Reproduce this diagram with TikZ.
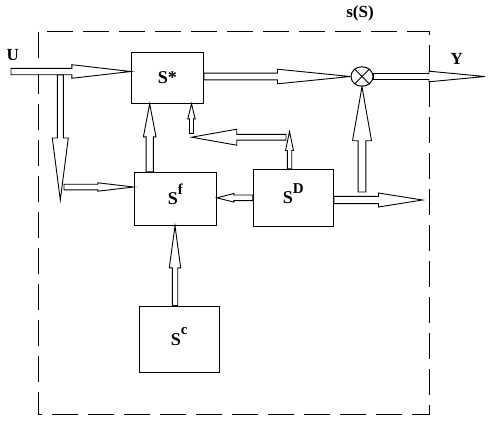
\documentclass[tikz,border=0pt]{standalone}
\usepackage{fontspec}
\setmainfont{Liberation Serif}
\usetikzlibrary{calc}
\usetikzlibrary{shapes.geometric}

% hollow block arrow: start, end, shaft half width, head half width, head length
\newcommand{\fatarrow}[5]{%
  \draw[fat] ($(#1)!#3!90:(#2)$)
    -- ($(#2)!#5!(#1)!#3!90:(#2)$)
    -- ($(#2)!#5!(#1)!#4!90:(#2)$)
    -- (#2)
    -- ($(#2)!#5!(#1)!#4!-90:(#2)$)
    -- ($(#2)!#5!(#1)!#3!-90:(#2)$)
    -- ($(#1)!#3!-90:(#2)$) -- cycle;
}
\newcommand{\supsc}[1]{\raisebox{10.5pt}{\fontsize{15}{15}\selectfont #1}}

\begin{document}
\begin{tikzpicture}[x=1pt,y=-1pt]

\tikzset{
    block/.style = {
    draw, line width=1pt, inner sep=0pt,
    text height=12pt, text depth=0pt,
    font=\fontsize{18}{18}\selectfont\bfseries
    },
    fat/.style = {draw, line width=0.9pt, fill=white},
    lbl/.style = {font=\fontsize{17}{17}\selectfont\bfseries}
}

\useasboundingbox (0,0) rectangle (497,426);

% system border
\draw[line width=1pt, dash pattern=on 26pt off 10pt] (38.5,31.7) rectangle (429.3,414);

\node (sstar) [block, minimum width=72pt, minimum height=51pt] at (167.3,77.8) {S*};
\node (sf) [block, minimum width=82pt, minimum height=53pt] at (175.3,198.8) {S\supsc{f}};
\node (sd) [block, minimum width=80pt, minimum height=57pt] at (293.3,197.8) {S\supsc{D}};
\node (sc) [block, minimum width=80pt, minimum height=66pt] at (179.3,339) {S\supsc{c}\hspace{8pt}};

\node (ring) [draw, ellipse, line width=1pt, minimum width=22pt, minimum height=19.5pt, inner sep=0pt] at (362,76.5) {};
\draw[line width=0.8pt] (ring.45) -- (ring.225) (ring.135) -- (ring.315);

\node (u) [lbl] at (12.8,55) {U};
\node (y) [lbl] at (456.7,58.7) {Y};
\node (sys) [lbl] at (360,13) {s(S)};

% input U and its branch
\coordinate (uin) at (11,71.5);
\coordinate (uend) at (sstar.west |- uin);
\fatarrow{uin}{uend}{3.2pt}{6.8pt}{59pt}

\coordinate (dtop) at (60.3,75);
\coordinate (dbot) at (60.3,200);
\fatarrow{dtop}{dbot}{3pt}{8pt}{62pt}

\coordinate (fin) at (64,187);
\coordinate (fend) at (sf.west |- fin);
\fatarrow{fin}{fend}{2.8pt}{4.2pt}{36pt}

% Sf -> S*
\coordinate (x1) at (149.7,0);
\coordinate (fs) at (sf.north -| x1);
\coordinate (fe) at (sstar.south -| x1);
\fatarrow{fs}{fe}{3.6pt}{6.3pt}{33pt}

% feedback from SD
\coordinate (x3) at (289.5,131.5);
\coordinate (ds) at (sd.north -| x3);
\fatarrow{ds}{x3}{2.2pt}{4pt}{19pt}

\coordinate (bs) at (286,137.2);
\coordinate (be) at (191.7,137.2);
\fatarrow{bs}{be}{2.9pt}{8pt}{45pt}

\coordinate (x2) at (191.5,133.3);
\coordinate (ke) at (sstar.south -| x2);
\fatarrow{x2}{ke}{2pt}{3.7pt}{15pt}

% S* -> ring -> Y
\coordinate (os) at (sstar.east |- ring.center);
\fatarrow{os}{ring.west}{3.4pt}{7.3pt}{73pt}

\coordinate (yout) at (485,76.5);
\fatarrow{ring.east}{yout}{3pt}{5.3pt}{56pt}

% SD outputs
\coordinate (rs) at (362,192);
\fatarrow{rs}{ring.south}{3.9pt}{9.5pt}{54pt}

\coordinate (de) at (422.5,200);
\coordinate (dst) at (sd.east |- de);
\fatarrow{dst}{de}{3.6pt}{7pt}{44pt}

\coordinate (se) at (sf.east |- sd.west);
\fatarrow{sd.west}{se}{2.8pt}{4.3pt}{17pt}

% Sc -> Sf
\coordinate (x4) at (175,0);
\coordinate (cs) at (sc.north -| x4);
\coordinate (ce) at (sf.south -| x4);
\fatarrow{cs}{ce}{2.7pt}{5.7pt}{42pt}

\end{tikzpicture}
\end{document}
